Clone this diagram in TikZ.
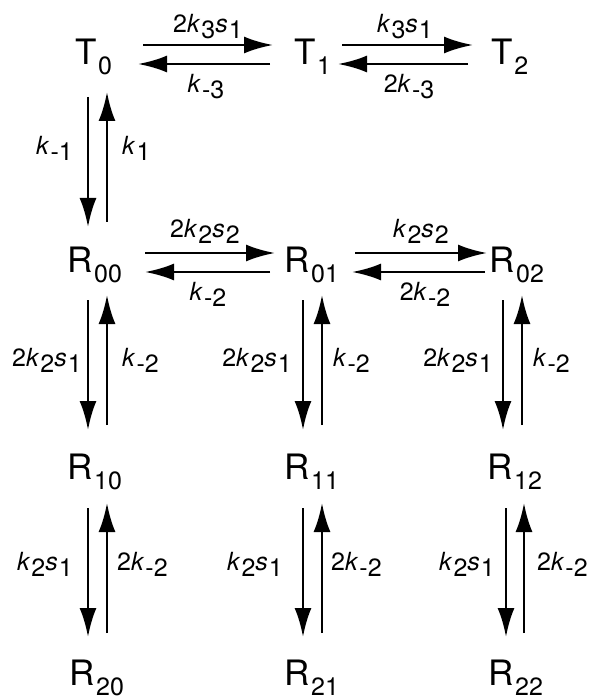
\documentclass[tikz,border=0pt]{standalone}
\usepackage{fontspec}
\setmainfont{TeX Gyre Heros}
\usepackage{tikz}
\usetikzlibrary{arrows.meta}

\newcommand{\spc}[2]{#1\kern1pt\raisebox{-10pt}{\fontsize{25}{28}\selectfont #2}}
\newcommand{\rsub}[1]{\kern1pt\raisebox{-6pt}{#1}}
\newcommand{\kk}{\textit{k}}
\newcommand{\sv}{\textit{s}}

\begin{document}
\begin{tikzpicture}[
    x=1pt, y=-1pt,
    species/.style={inner sep=0pt, anchor=base, font=\fontsize{35}{40}\selectfont},
    rate/.style={inner sep=0pt, font=\fontsize{25}{28}\selectfont},
    arrow/.style={-{Latex[length=29pt,width=17pt]}, line width=2.8pt}
]
\useasboundingbox (0,0) rectangle (590,700);

% species
\node[species] (T0) at (94,65) {\spc{T}{0}};
\node[species] (T1) at (313,65) {\spc{T}{1}};
\node[species] (T2) at (510,65) {\spc{T}{2}};
\node[species] (R00) at (95,272) {\spc{R}{00}};
\node[species] (R01) at (312,272) {\spc{R}{01}};
\node[species] (R02) at (517,272) {\spc{R}{02}};
\node[species] (R10) at (95,479) {\spc{R}{10}};
\node[species] (R11) at (312,479) {\spc{R}{11}};
\node[species] (R12) at (515,479) {\spc{R}{12}};
\node[species] (R20) at (97,685) {\spc{R}{20}};
\node[species] (R21) at (312,685) {\spc{R}{21}};
\node[species] (R22) at (516,685) {\spc{R}{22}};

% T row
\draw[arrow] ([shift={(49,-20)}]T0.base) -- ([shift={(-40,-20)}]T1.base);
\draw[arrow] ([shift={(-43,-1)}]T1.base) -- ([shift={(44,-1)}]T0.base);
\draw[arrow] ([shift={(29,-20)}]T1.base) -- ([shift={(-37,-20)}]T2.base);
\draw[arrow] ([shift={(-42,-1)}]T2.base) -- ([shift={(25,-1)}]T1.base);
\node[rate, anchor=base] (f01) at (208,33) {2\kk\rsub{3}\sv\rsub{1}};
\node[rate, anchor=base] (b01) at (206,93) {\kk\rsub{-3}};
\node[rate, anchor=base] (f12) at (405,33) {\kk\rsub{3}\sv\rsub{1}};
\node[rate, anchor=base] (b12) at (409,93) {2\kk\rsub{-3}};

% T0 <-> R00
\draw[arrow] ([shift={(-6,32)}]T0.base) -- ([shift={(-7,-45)}]R00.base);
\draw[arrow] ([shift={(12,-50)}]R00.base) -- ([shift={(13,27)}]T0.base);
\node[rate, anchor=base east] (dT) at (73,155) {\kk\rsub{-1}};
\node[rate, anchor=base west] (uT) at (122,155) {\kk\rsub{1}};

% R0 row
\draw[arrow] ([shift={(50,-19)}]R00.base) -- ([shift={(-37,-19)}]R01.base);
\draw[arrow] ([shift={(-42,0)}]R01.base) -- ([shift={(50,0)}]R00.base);
\draw[arrow] ([shift={(43,-19)}]R01.base) -- ([shift={(-30,-19)}]R02.base);
\draw[arrow] ([shift={(-32,0)}]R02.base) -- ([shift={(40,0)}]R01.base);
\node[rate, anchor=base] (fR01) at (205,237) {2\kk\rsub{2}\sv\rsub{2}};
\node[rate, anchor=base] (bR01) at (208,300) {\kk\rsub{-2}};
\node[rate, anchor=base] (fR12) at (421,237) {\kk\rsub{2}\sv\rsub{2}};
\node[rate, anchor=base] (bR12) at (425,300) {2\kk\rsub{-2}};

% R0 <-> R1
\draw[arrow] ([shift={(-7,28)}]R00.base) -- ([shift={(-7,-49)}]R10.base);
\draw[arrow] ([shift={(12,-54)}]R10.base) -- ([shift={(12,23)}]R00.base);
\draw[arrow] ([shift={(-9,28)}]R01.base) -- ([shift={(-9,-49)}]R11.base);
\draw[arrow] ([shift={(10,-54)}]R11.base) -- ([shift={(10,23)}]R01.base);
\draw[arrow] ([shift={(-14,28)}]R02.base) -- ([shift={(-12,-49)}]R12.base);
\draw[arrow] ([shift={(7,-54)}]R12.base) -- ([shift={(5,23)}]R02.base);
\node[rate, anchor=base east] (d00) at (82,366) {2\kk\rsub{2}\sv\rsub{1}};
\node[rate, anchor=base west] (u00) at (122,366) {\kk\rsub{-2}};
\node[rate, anchor=base east] (d01) at (292,366) {2\kk\rsub{2}\sv\rsub{1}};
\node[rate, anchor=base west] (u01) at (333,366) {\kk\rsub{-2}};
\node[rate, anchor=base east] (d02) at (493,366) {2\kk\rsub{2}\sv\rsub{1}};
\node[rate, anchor=base west] (u02) at (533,366) {\kk\rsub{-2}};

% R1 <-> R2
\draw[arrow] ([shift={(-7,29)}]R10.base) -- ([shift={(-9,-48)}]R20.base);
\draw[arrow] ([shift={(10,-52)}]R20.base) -- ([shift={(12,24)}]R10.base);
\draw[arrow] ([shift={(-9,29)}]R11.base) -- ([shift={(-9,-48)}]R21.base);
\draw[arrow] ([shift={(10,-52)}]R21.base) -- ([shift={(10,24)}]R11.base);
\draw[arrow] ([shift={(-9,29)}]R12.base) -- ([shift={(-10,-48)}]R22.base);
\draw[arrow] ([shift={(8,-52)}]R22.base) -- ([shift={(9,24)}]R12.base);
\node[rate, anchor=base east] (d10) at (73,570) {\kk\rsub{2}\sv\rsub{1}};
\node[rate, anchor=base west] (u10) at (117,570) {2\kk\rsub{-2}};
\node[rate, anchor=base east] (d11) at (283,570) {\kk\rsub{2}\sv\rsub{1}};
\node[rate, anchor=base west] (u11) at (331,570) {2\kk\rsub{-2}};
\node[rate, anchor=base east] (d12) at (495,570) {\kk\rsub{2}\sv\rsub{1}};
\node[rate, anchor=base west] (u12) at (537,570) {2\kk\rsub{-2}};
\end{tikzpicture}
\end{document}
